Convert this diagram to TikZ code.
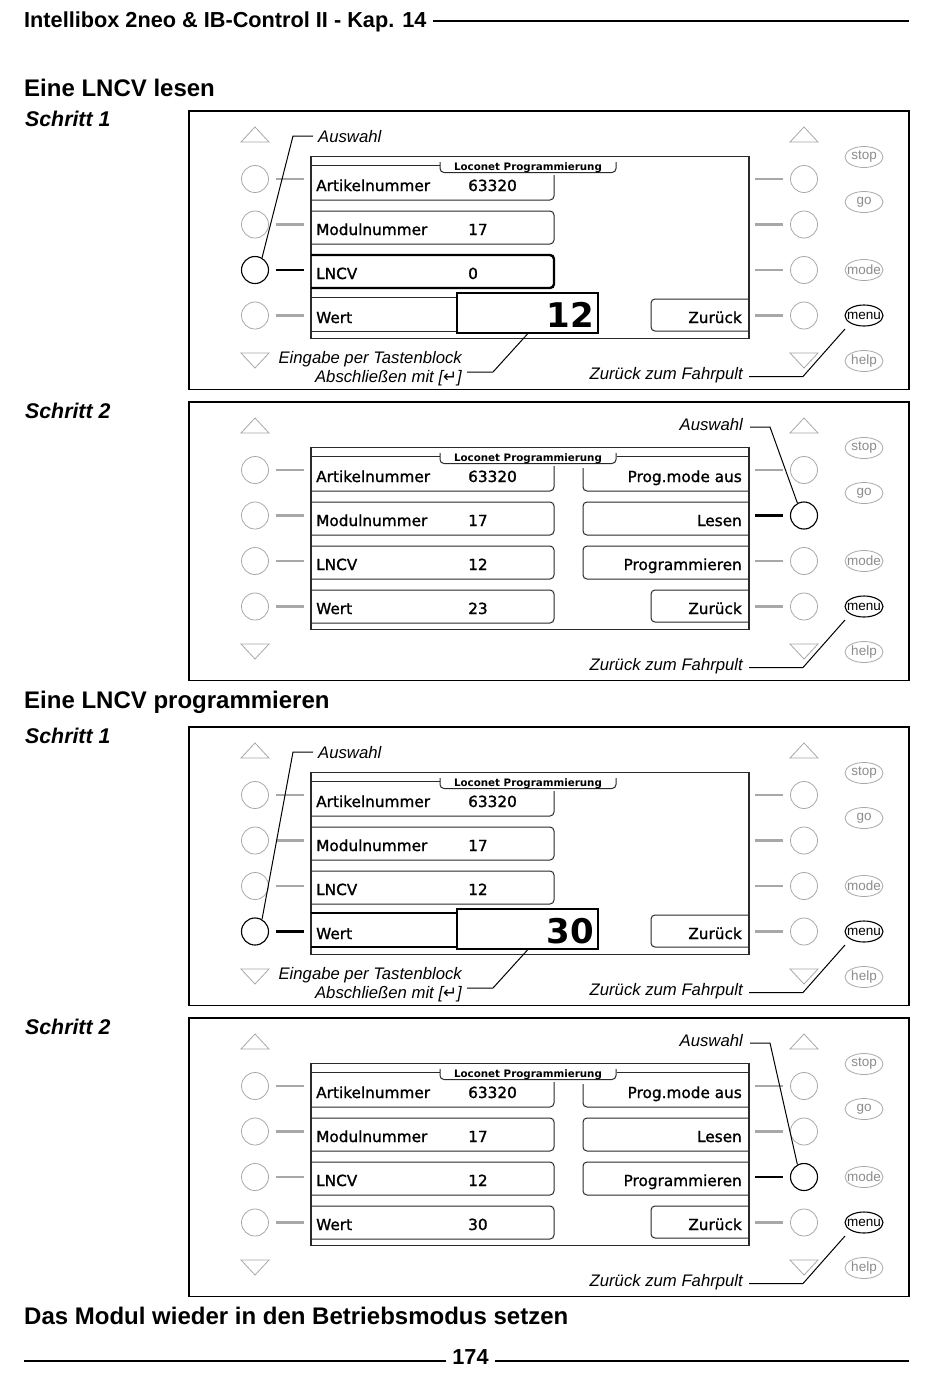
\documentclass[tikz,border=0pt]{standalone}
\usepackage{fontspec}
\setmainfont{Liberation Sans}
\newfontfamily\lcdfont[FakeBold=1.2]{DejaVu Sans}
\newfontfamily\arrowfont{DejaVu Sans}
\usetikzlibrary{calc,shapes.geometric}
\definecolor{keygray}{HTML}{A8A8A8}
\definecolor{txtgray}{HTML}{8C8C8C}
\definecolor{lcdline}{HTML}{2A2A2A}
\tikzset{
  panelframe/.style={draw=black,line width=1.4pt},
  lcdframe/.style={draw=lcdline,line width=1.1pt},
  rowline/.style={draw=lcdline,line width=1pt,rounded corners=4pt},
  rowsel/.style={draw=black,line width=2.4pt,rounded corners=4pt},
  valbox/.style={draw=black,line width=1.9pt,minimum width=141pt,minimum height=40pt,inner sep=0pt},
  keyc/.style={circle,draw=keygray,fill=white,line width=0.8pt,minimum size=27pt,inner sep=0pt},
  keysel/.style={circle,draw=black,fill=white,line width=1.1pt,minimum size=27pt,inner sep=0pt},
  stub/.style={draw=keygray,line width=2.3pt},
  stubsel/.style={draw=black,line width=2.3pt},
  tri/.style={draw=keygray,line width=0.8pt},
  btn/.style={ellipse,draw=keygray,line width=0.8pt,minimum width=38pt,minimum height=21pt,inner sep=0pt},
  btnsel/.style={ellipse,draw=black,line width=1.1pt,minimum width=38pt,minimum height=21pt,inner sep=0pt},
  btntxt/.style={text=txtgray,font=\fontsize{13.5}{14}\selectfont,inner sep=0pt},
  btntxtsel/.style={text=black,font=\fontsize{13.5}{14}\selectfont,inner sep=0pt},
  lcdl/.style={anchor=base west,inner sep=0pt,font=\lcdfont\fontsize{15.3}{16}\selectfont},
  lcdr/.style={anchor=base east,inner sep=0pt,font=\lcdfont\fontsize{15.3}{16}\selectfont},
  tabtxt/.style={anchor=base,inner sep=0pt,font=\arrowfont\bfseries\fontsize{10.3}{11}\selectfont},
  bignum/.style={anchor=base east,inner sep=0pt,font=\arrowfont\bfseries\fontsize{34}{34}\selectfont},
  note/.style={inner sep=0pt,font=\fontsize{16.7}{18}\selectfont\itshape},
  leader/.style={draw=black,line width=1pt},
  heading/.style={anchor=base west,inner sep=0pt,font=\fontsize{24}{26}\selectfont\bfseries},
  steplbl/.style={anchor=base west,inner sep=0pt,font=\fontsize{21.3}{22}\selectfont\bfseries\itshape},
  hdrtxt/.style={anchor=base west,inner sep=0pt,font=\fontsize{21.7}{22}\selectfont\bfseries},
  rulestyle/.style={draw=black,line width=2pt}
}
% common parts of one display panel: #1 = top y, #2 = name prefix, #3 = LNCV value
\newcommand\ibpanel[3]{%
 \begin{scope}[shift={(0,#1)}]
  \draw[panelframe] (189,0) rectangle (909,278.5);
  \draw[tri] (241,31) -- (269,31) -- (255,16) -- cycle;
  \draw[tri] (241,242) -- (269,242) -- (255,257) -- cycle;
  \draw[tri] (790,31) -- (818,31) -- (804,16) -- cycle;
  \draw[tri] (790,242) -- (818,242) -- (804,257) -- cycle;
  \foreach \ri/\yy in {1/68,2/113.5,3/159,4/204.5}{
    \draw[stub] (276,\yy) -- (304,\yy);
    \draw[stub] (755,\yy) -- (783,\yy);
    \node[keyc] (#2l\ri) at (255,\yy) {};
    \node[keyc] (#2r\ri) at (804,\yy) {};
  }
  \node[btn] (#2stop) at (864,46) {};
  \node[btntxt] at (#2stop) {stop};
  \node[btn] (#2go) at (864,91) {};
  \node[btntxt] at (#2go) {go};
  \node[btn] (#2mode) at (864,159) {};
  \node[btntxt] at (#2mode) {mode};
  \node[btnsel] (#2menu) at (864,204.5) {};
  \node[btntxtsel] at (#2menu) {menu};
  \node[btn] (#2help) at (864,250) {};
  \node[btntxt] at (#2help) {help};
  % LCD
  \draw[lcdframe] (311,45.5) rectangle (749,227.5);
  \draw[rowline] (311,54.5) -- (440,54.5);
  \draw[rowline] (440,51) -- (440,61.5) -- (616,61.5) -- (616,51);
  \node[tabtxt] at (528,59) {Loconet Programmierung};
  \draw[rowline] (554,64) -- (554,89) -- (311,89);
  \draw[rowline] (311,100) -- (554,100) -- (554,133) -- (311,133);
  \node[lcdl] at (316,80) {Artikelnummer};
  \node[lcdl] at (468,80) {63320};
  \node[lcdl] at (316,124) {Modulnummer};
  \node[lcdl] at (468,124) {17};
  \node[lcdl] at (316,168) {LNCV};
  \node[lcdl] at (468,168) {#3};
  \node[lcdl] at (316,212) {Wert};
  \draw[rowline] (749,188) -- (651,188) -- (651,220) -- (749,220);
  \node[lcdr] at (742,212) {Zurück};
  % back to cab
  \node[note,anchor=base east] (#2zf) at (743,268.5) {Zurück zum Fahrpult};
  \coordinate (#2za) at (749,265.5);
  \coordinate (#2zb) at (803,265.5);
  \coordinate (#2zc) at (845,218);
  \draw[leader] (#2za) -- (#2zb) -- (#2zc);
 \end{scope}%
}
% right-hand menu of the display: #1 = top y
\newcommand\ibrightmenu[1]{%
 \begin{scope}[shift={(0,#1)}]
  \draw[rowline] (617,54.5) -- (749,54.5);
  \draw[rowline] (583,66) -- (583,89) -- (749,89);
  \draw[rowline] (749,100) -- (583,100) -- (583,133) -- (749,133);
  \draw[rowline] (749,144) -- (583,144) -- (583,177) -- (749,177);
  \node[lcdr] at (742,80) {Prog.mode aus};
  \node[lcdr] at (742,124) {Lesen};
  \node[lcdr] at (742,168) {Programmieren};
 \end{scope}%
}
\begin{document}
\begin{tikzpicture}[x=1pt,y=-1pt]
\fill[white] (0,0) rectangle (950,1374);
\useasboundingbox (0,0) rectangle (950,1374);
% page header
\node[hdrtxt] (hdr) at (24,27) {Intellibox 2neo \& IB-Control II - Kap. 14};
\coordinate (hdra) at (433,21);
\coordinate (hdrb) at (909,21);
\draw[rulestyle] (hdra) -- (hdrb);
% section headings
\node[heading] (t1) at (24,96) {Eine LNCV lesen};
\node[steplbl] (s11) at (25,126) {Schritt 1};
\node[steplbl] (s12) at (25,418) {Schritt 2};
\node[heading] (t2) at (24,708) {Eine LNCV programmieren};
\node[steplbl] (s21) at (25,743) {Schritt 1};
\node[steplbl] (s22) at (25,1034) {Schritt 2};
\node[heading] (t3) at (24,1324) {Das Modul wieder in den Betriebsmodus setzen};
% footer
\node[hdrtxt,anchor=base] (pg) at (470.5,1364) {174};
\coordinate (fla) at (24,1360.5);
\coordinate (flb) at (446,1360.5);
\coordinate (fra) at (495,1360.5);
\coordinate (frb) at (909,1360.5);
\draw[rulestyle] (fla) -- (flb);
\draw[rulestyle] (fra) -- (frb);

% ---------- Panel A: lesen, Schritt 1 ----------
\ibpanel{111}{a}{0}
\begin{scope}[shift={(0,111)}]
 \draw[rowsel] (311,144) -- (554,144) -- (554,177) -- (311,177);
 \draw[rowline] (311,186) -- (457,186) (311,220) -- (457,220);
 \node[valbox] (aval) at (527.5,202) {};
 \node[bignum] at (594,216) {12};
 \draw[stubsel] (276,159) -- (304,159);
 \node[keysel] (asel) at (255,159) {};
 \node[note,anchor=base west] (aausw) at (318,31) {Auswahl};
 \coordinate (ala) at (313,25);
 \coordinate (alb) at (293,25);
 \draw[leader] (ala) -- (alb) -- (asel.60);
 \node[note,anchor=base east] (aein) at (462,252) {Eingabe per Tastenblock};
 \node[note,anchor=base east] (aabs) at (462,271) {Abschließen mit [{\arrowfont\itshape ↵}]};
 \coordinate (aea) at (467,261);
 \coordinate (aeb) at (493,261);
 \draw[leader] (aea) -- (aeb) -- (aval.south);
\end{scope}

% ---------- Panel B: lesen, Schritt 2 ----------
\ibpanel{402}{b}{12}
\ibrightmenu{402}
\begin{scope}[shift={(0,402)}]
 \draw[rowline] (311,144) -- (554,144) -- (554,177) -- (311,177);
 \draw[rowline] (311,188) -- (554,188) -- (554,221) -- (311,221);
 \node[lcdl] at (468,212) {23};
 \draw[stubsel] (755,113.5) -- (783,113.5);
 \node[keysel] (bsel) at (804,113.5) {};
 \node[note,anchor=base east] (bausw) at (743,28) {Auswahl};
 \coordinate (bla) at (750,25);
 \coordinate (blb) at (770,25);
 \draw[leader] (bla) -- (blb) -- (bsel.118);
\end{scope}

% ---------- Panel C: programmieren, Schritt 1 ----------
\ibpanel{727}{c}{12}
\begin{scope}[shift={(0,727)}]
 \draw[rowline] (311,144) -- (554,144) -- (554,177) -- (311,177);
 \draw[rowsel] (311,186) -- (457,186) (311,220) -- (457,220);
 \node[valbox] (cval) at (527.5,202) {};
 \node[bignum] at (594,216) {30};
 \draw[stubsel] (276,204.5) -- (304,204.5);
 \node[keysel] (csel) at (255,204.5) {};
 \node[note,anchor=base west] (causw) at (318,31) {Auswahl};
 \coordinate (cla) at (313,25);
 \coordinate (clb) at (293,25);
 \draw[leader] (cla) -- (clb) -- (csel.60);
 \node[note,anchor=base east] (cein) at (462,252) {Eingabe per Tastenblock};
 \node[note,anchor=base east] (cabs) at (462,271) {Abschließen mit [{\arrowfont\itshape ↵}]};
 \coordinate (cea) at (467,261);
 \coordinate (ceb) at (493,261);
 \draw[leader] (cea) -- (ceb) -- (cval.south);
\end{scope}

% ---------- Panel D: programmieren, Schritt 2 ----------
\ibpanel{1018}{d}{12}
\ibrightmenu{1018}
\begin{scope}[shift={(0,1018)}]
 \draw[rowline] (311,144) -- (554,144) -- (554,177) -- (311,177);
 \draw[rowline] (311,188) -- (554,188) -- (554,221) -- (311,221);
 \node[lcdl] at (468,212) {30};
 \draw[stubsel] (755,159) -- (783,159);
 \node[keysel] (dsel) at (804,159) {};
 \node[note,anchor=base east] (dausw) at (743,28) {Auswahl};
 \coordinate (dla) at (750,25);
 \coordinate (dlb) at (770,25);
 \draw[leader] (dla) -- (dlb) -- (dsel.118);
\end{scope}
\end{tikzpicture}
\end{document}
